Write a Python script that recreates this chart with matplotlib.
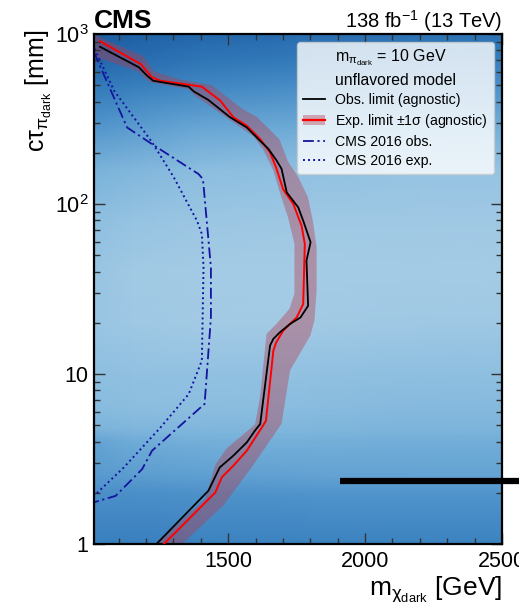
import numpy as np
import matplotlib
matplotlib.use("Agg")
import matplotlib.pyplot as plt
from matplotlib.colors import LinearSegmentedColormap
from matplotlib.lines import Line2D
from matplotlib.patches import Patch
from matplotlib.ticker import MultipleLocator, FixedLocator, FixedFormatter, LogLocator, NullFormatter

plt.rcParams["font.family"] = ["Liberation Sans", "DejaVu Sans"]
plt.rcParams["mathtext.fontset"] = "custom"
plt.rcParams["mathtext.rm"] = "Liberation Sans"
plt.rcParams["mathtext.it"] = "Liberation Sans"
plt.rcParams["mathtext.bf"] = "Liberation Sans:bold"

# observed limit (agnostic)
obs_x = [1032, 1174, 1204, 1226, 1356, 1374, 1428, 1507, 1568, 1610, 1647, 1677, 1695,
         1714, 1756, 1774, 1801, 1786, 1792, 1764, 1726, 1689, 1665, 1653, 1617, 1598,
         1568, 1519, 1469, 1428, 1238]
obs_y = [841, 637, 569, 531, 490, 460, 409, 324, 282, 241, 211, 180, 161,
         117, 95.5, 79.8, 59.6, 46.5, 25.2, 21.5, 19.7, 17.6, 16.1, 14.7, 5.08, 4.65,
         3.96, 3.31, 2.82, 2.06, 1.0]

# expected limit (agnostic)
exp_x = [1032, 1180, 1222, 1253, 1404, 1471, 1519, 1568, 1617, 1653, 1675, 1701, 1738,
         1768, 1780, 1774, 1750, 1701, 1675, 1665, 1638, 1623, 1568, 1519, 1477, 1453, 1265]
exp_y = [906, 667, 556, 531, 490, 406, 324, 289, 241, 201, 164, 122, 100,
         74.6, 58.2, 25.8, 21.5, 18.0, 15.3, 13.7, 5.31, 4.85, 3.54, 2.89, 2.47, 2.01, 1.0]

# +-1 sigma band edges
band_out_x = [1010, 1021, 1060, 1190, 1228, 1330, 1440, 1483, 1555, 1604, 1652, 1688, 1718,
              1755, 1791, 1809, 1823, 1823, 1815, 1800, 1726, 1695, 1592, 1483, 1332]
band_out_y = [1000, 977, 912, 741, 603, 537, 501, 442, 360, 326, 274, 239, 178,
              145, 110, 80.4, 55.8, 31.0, 20.6, 16.8, 10.5, 5.1, 2.92, 1.69, 1.0]
band_in_x = [1010, 1170, 1215, 1356, 1380, 1513, 1592, 1628, 1664, 1694, 1718, 1742, 1742,
             1724, 1676, 1640, 1616, 1598, 1495, 1453, 1417, 1236]
band_in_y = [741, 603, 519, 473, 432, 307, 250, 209, 159, 110, 84.1, 58.5, 29.6,
             24.2, 19.7, 17.2, 7.24, 5.04, 3.66, 2.92, 1.85, 1.0]

# CMS 2016
o16_x = [1010, 1131, 1222, 1392, 1408, 1437, 1437, 1414, 1222, 1186, 1089, 1010]
o16_y = [780, 282, 225, 150, 140, 42.4, 21.5, 6.67, 3.54, 2.76, 1.92, 1.76]
e16_x = [1012, 1083, 1222, 1301, 1386, 1404, 1410, 1404, 1356, 1253, 1119, 1010]
e16_y = [817, 465, 231, 144, 79.8, 66.7, 42.4, 12.0, 7.62, 4.85, 2.82, 1.92]

# background map (0 = light, 1 = dark)
bg_x = [1010, 1150, 1400, 1800, 2200, 2500]
bg_y = [1, 2, 2.5, 4, 4.8, 6.3, 10, 20, 40, 80, 160, 280, 500, 700, 1000]
bg_z = [
    [0.74, 0.74, 0.72, 0.72, 0.72, 0.72],
    [0.60, 0.60, 0.58, 0.56, 0.56, 0.56],
    [0.52, 0.50, 0.48, 0.46, 0.45, 0.45],
    [0.45, 0.38, 0.35, 0.35, 0.36, 0.36],
    [0.30, 0.28, 0.27, 0.28, 0.30, 0.30],
    [0.24, 0.22, 0.22, 0.23, 0.25, 0.25],
    [0.20, 0.18, 0.17, 0.18, 0.20, 0.20],
    [0.12, 0.08, 0.05, 0.05, 0.07, 0.08],
    [0.12, 0.06, 0.03, 0.02, 0.03, 0.03],
    [0.20, 0.15, 0.10, 0.08, 0.07, 0.07],
    [0.32, 0.28, 0.22, 0.18, 0.15, 0.15],
    [0.55, 0.50, 0.42, 0.38, 0.35, 0.35],
    [0.80, 0.75, 0.68, 0.62, 0.60, 0.60],
    [0.92, 0.88, 0.82, 0.78, 0.75, 0.75],
    [1.00, 0.97, 0.92, 0.88, 0.85, 0.85],
]

bar_x = [1909, 2600]
bar_y = [2.35, 2.35]

cmap = LinearSegmentedColormap.from_list(
    "bg", ["#a8cde6", "#8ebfe0", "#6ba9d6", "#4b8fc9", "#3179b9", "#1c5ca2"])
band_color = "#b43c4e"
blue = "#1414a0"

fig = plt.figure(figsize=(5.19, 6.02), dpi=100)
ax = fig.add_axes([0.1811, 0.0963, 0.7861, 0.8472])
ax.set_yscale("log")

X, Y = np.meshgrid(bg_x, bg_y)
ax.pcolormesh(X, Y, np.array(bg_z), cmap=cmap, vmin=0, vmax=1, shading="gouraud", zorder=0)

band_x = band_out_x + band_in_x[::-1]
band_y = band_out_y + band_in_y[::-1]
ax.fill(band_x, band_y, color=band_color, alpha=0.4, lw=0, zorder=1)

ax.plot(exp_x, exp_y, color="red", lw=1.4, zorder=3)
ax.plot(obs_x, obs_y, color="black", lw=1.3, zorder=4)
ax.plot(o16_x, o16_y, color=blue, lw=1.3, ls=(0, (6, 2, 1.2, 2)), zorder=2)
ax.plot(e16_x, e16_y, color=blue, lw=1.4, ls=(0, (1, 1.6)), zorder=2)

ax.plot(bar_x, bar_y, color="black", lw=4.5, solid_capstyle="butt", clip_on=False, zorder=5)

ax.set_xlim(1010, 2500)
ax.set_ylim(1, 1000)

ax.xaxis.set_major_locator(MultipleLocator(500))
ax.xaxis.set_minor_locator(MultipleLocator(100))
ax.yaxis.set_major_locator(FixedLocator([1, 10, 100, 1000]))
ax.yaxis.set_major_formatter(FixedFormatter(["1", "10", "$10^2$", "$10^3$"]))
ax.yaxis.set_minor_locator(LogLocator(base=10, subs=np.arange(2, 10)))
ax.yaxis.set_minor_formatter(NullFormatter())

ax.tick_params(which="both", direction="in", top=True, right=True, color="#333333", width=1)
ax.tick_params(which="major", length=8, labelsize=15.5, pad=5)
ax.tick_params(axis="y", which="major", pad=4)
ax.tick_params(which="minor", length=4)
for s in ax.spines.values():
    s.set_linewidth(1.6)

ax.set_xlabel(r"m$_{\chi_{\mathrm{dark}}}$ [GeV]", fontsize=19, loc="right", labelpad=2)
ax.set_ylabel(r"c$\tau_{\pi_{\mathrm{dark}}}$ [mm]", fontsize=18, loc="top")
ax.yaxis.set_label_coords(-0.098, 1.008)

ax.text(0.0, 1.012, "CMS", transform=ax.transAxes, fontsize=19, fontweight="bold",
        ha="left", va="baseline")
ax.text(1.0, 1.012, r"138 fb$^{-1}$ (13 TeV)", transform=ax.transAxes, fontsize=14.5,
        ha="right", va="baseline")

blank = Line2D([], [], linestyle="none")
handles = [blank, blank,
           Line2D([], [], color="black", lw=1.3),
           (Patch(facecolor=band_color, alpha=0.4, edgecolor="none"), Line2D([], [], color="red", lw=1.6)),
           Line2D([], [], color=blue, lw=1.3, ls=(0, (6, 2, 1.2, 2))),
           Line2D([], [], color=blue, lw=1.4, ls=(0, (1, 1.6)))]
labels = [r"m$_{\pi_{\mathrm{dark}}}$ = 10 GeV", "unflavored model",
          "Obs. limit (agnostic)", r"Exp. limit $\pm$1$\sigma$ (agnostic)",
          "CMS 2016 obs.", "CMS 2016 exp."]
leg = ax.legend(handles, labels, loc="upper right", bbox_to_anchor=(0.98, 0.984),
                borderaxespad=0, fontsize=10.2, handlelength=1.55, handletextpad=0.75,
                labelspacing=0.35, framealpha=0.8, edgecolor="#cccccc", facecolor="white")
leg.get_texts()[0].set_fontsize(11.5)
leg.get_texts()[1].set_fontsize(11.3)
leg.set_zorder(6)

fig.savefig("out.png", dpi=100)
